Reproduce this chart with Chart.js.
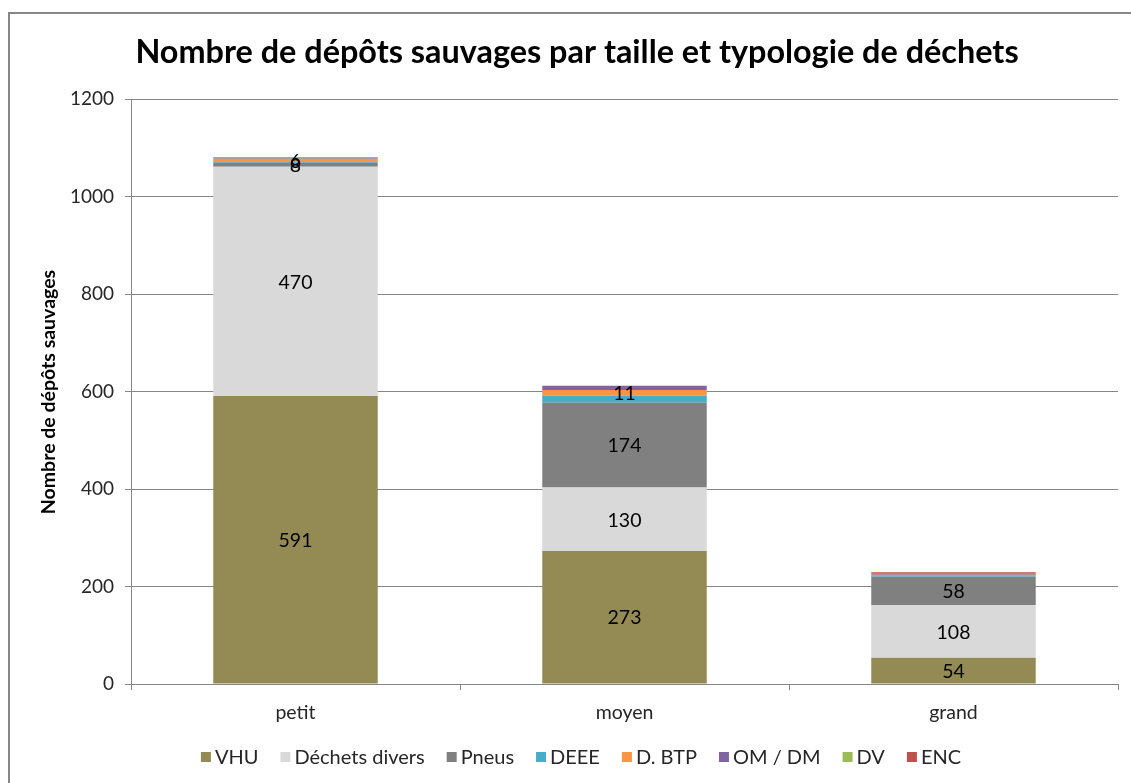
<!DOCTYPE html>
<html>
<head>
<meta charset="utf-8">
<script src="https://cdn.jsdelivr.net/npm/chart.js@4/dist/chart.umd.min.js"></script>
<style>
  html, body { margin: 0; padding: 0; background: #fff; }
  #wrap { position: relative; width: 1131px; height: 783px; overflow: hidden; }
  #frame { position: absolute; left: 8px; top: 12px; width: 1140px; height: 800px; border: 2px solid #878787; box-sizing: border-box; pointer-events: none; }
  canvas { position: absolute; left: 0; top: 0; }
</style>
</head>
<body>
<div id="wrap">
  <canvas id="c" width="1131" height="783"></canvas>
  <div id="frame"></div>
</div>
<script>
const categories = ["petit", "moyen", "grand"];
const seriesNames = ["VHU", "Déchets divers", "Pneus", "DEEE", "D. BTP", "OM / DM", "DV", "ENC"];
const vhu     = [591, 273, 54];
const divers  = [470, 130, 108];
const pneus   = [8, 174, 58];
const deee    = [2, 15, 3];
const btp     = [6, 11, 1];
const omdm    = [1, 9, 3];
const dv      = [3, 0, 0];
const enc     = [0, 0, 2];
// which values carry a data label in the reference
const labelVHU    = [true, true, true];
const labelDivers = [true, true, true];
const labelPneus  = [true, true, true];
const labelDEEE   = [false, false, false];
const labelBTP    = [true, true, false];
const labelOMDM   = [false, false, false];
const labelDV     = [false, false, false];
const labelENC    = [false, false, false];
const yTicks = [0, 200, 400, 600, 800, 1000, 1200];
const chartTitle = "Nombre de dépôts sauvages par taille et typologie de déchets";
const yTitle = "Nombre de dépôts sauvages";

const colors = ["#948A54", "#D9D9D9", "#808080", "#4BACC6", "#F79646", "#8064A2", "#9BBB59", "#C0504D"];
const values = [vhu, divers, pneus, deee, btp, omdm, dv, enc];
const labelFlags = [labelVHU, labelDivers, labelPneus, labelDEEE, labelBTP, labelOMDM, labelDV, labelENC];
const FONT = "Lato, 'Open Sans', 'Liberation Sans', sans-serif";

const datasets = seriesNames.map((n, i) => ({
  label: n,
  data: values[i],
  backgroundColor: colors[i],
  borderWidth: 0,
  showLabel: labelFlags[i],
  barPercentage: 0.5,
  categoryPercentage: 1.0
}));

const textPlugin = {
  id: 'textPlugin',
  afterDatasetsDraw(chart) {
    const ctx = chart.ctx;
    ctx.save();
    ctx.fillStyle = '#000';
    ctx.font = "19.5px " + FONT;
    ctx.textAlign = 'center';
    ctx.textBaseline = 'middle';
    chart.data.datasets.forEach((ds, di) => {
      const meta = chart.getDatasetMeta(di);
      meta.data.forEach((bar, i) => {
        if (!ds.showLabel[i] || !ds.data[i]) return;
        const p = bar.getProps(['x', 'y', 'base'], true);
        ctx.fillText(String(ds.data[i]), p.x, (p.y + p.base) / 2 + 1);
      });
    });
    ctx.restore();
  },
  afterDraw(chart) {
    const ctx = chart.ctx;
    ctx.save();
    // title
    ctx.fillStyle = '#000';
    ctx.font = "bold 32.4px " + FONT;
    ctx.textAlign = 'center';
    ctx.textBaseline = 'middle';
    ctx.fillText(chartTitle, 577, 53);
    // y axis title
    ctx.save();
    ctx.translate(49, 392);
    ctx.rotate(-Math.PI / 2);
    ctx.font = "bold 19.5px " + FONT;
    ctx.fillText(yTitle, 0, 0);
    ctx.restore();
    // legend
    ctx.font = "20px " + FONT;
    ctx.textAlign = 'left';
    const y = 757;
    const items = chart.data.datasets.map(ds => ({ ds, w: ctx.measureText(ds.label).width }));
    const total = items.reduce((s, it) => s + 10 + 4 + it.w, 0) + 22 * (items.length - 1);
    let x = 581 - total / 2;
    items.forEach(({ ds, w }) => {
      ctx.fillStyle = ds.backgroundColor;
      ctx.fillRect(x, y - 5, 10, 10);
      x += 14;
      ctx.fillStyle = '#262626';
      ctx.fillText(ds.label, x, y + 1);
      x += w + 22;
    });
    ctx.restore();
  }
};

new Chart(document.getElementById('c'), {
  type: 'bar',
  data: { labels: categories, datasets },
  options: {
    responsive: false,
    animation: false,
    layout: { padding: { left: 0, top: 99, right: 13, bottom: 59 } },
    plugins: { legend: { display: false }, title: { display: false }, tooltip: { enabled: false } },
    scales: {
      x: {
        stacked: true,
        grid: { display: true, drawOnChartArea: false, drawTicks: true, tickLength: 6, offset: true, color: '#868686' },
        border: { display: true, color: '#868686', width: 1 },
        ticks: { color: '#262626', font: { size: 19.5, family: FONT }, padding: 11 },
        afterFit(s) { s.height = 40; }
      },
      y: {
        stacked: true,
        min: 0, max: 1200,
        afterBuildTicks(s) { s.ticks = yTicks.map(v => ({ value: v })); },
        grid: { color: '#868686', tickLength: 6, drawTicks: true },
        border: { display: true, color: '#868686', width: 1 },
        ticks: { color: '#262626', font: { size: 19, family: FONT }, padding: 11, callback: v => String(v) },
        afterFit(s) { s.width = 131; }
      }
    }
  },
  plugins: [textPlugin]
});
</script>
</body>
</html>
